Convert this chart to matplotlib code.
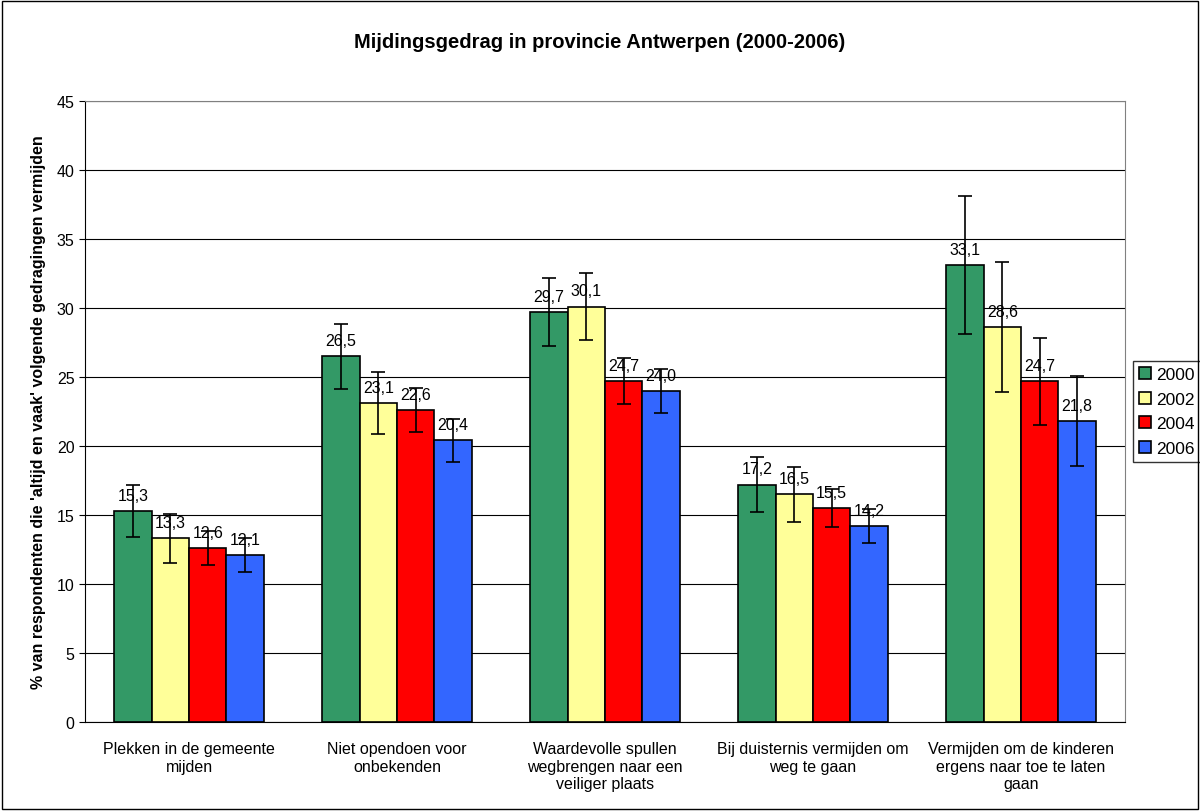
import numpy as np
import matplotlib
matplotlib.use("Agg")
import matplotlib.pyplot as plt
from matplotlib.patches import Rectangle

plt.rcParams["font.family"] = ["Liberation Sans", "DejaVu Sans"]

categories = [
    "Plekken in de gemeente\nmijden",
    "Niet opendoen voor\nonbekenden",
    "Waardevolle spullen\nwegbrengen naar een\nveiliger plaats",
    "Bij duisternis vermijden om\nweg te gaan",
    "Vermijden om de kinderen\nergens naar toe te laten\ngaan",
]
years = ["2000", "2002", "2004", "2006"]
v2000 = [15.3, 26.5, 29.7, 17.2, 33.1]
v2002 = [13.3, 23.1, 30.1, 16.5, 28.6]
v2004 = [12.6, 22.6, 24.7, 15.5, 24.7]
v2006 = [12.1, 20.4, 24.0, 14.2, 21.8]
e2000 = [1.9, 2.35, 2.45, 2.0, 5.0]
e2002 = [1.8, 2.25, 2.45, 2.0, 4.7]
e2004 = [1.25, 1.6, 1.65, 1.35, 3.15]
e2006 = [1.2, 1.55, 1.6, 1.25, 3.25]
colors = ["#339966", "#FFFF99", "#FF0000", "#3366FF"]

values = [v2000, v2002, v2004, v2006]
errors = [e2000, e2002, e2004, e2006]

fig = plt.figure(figsize=(12, 8.12), dpi=100)
ax = fig.add_axes([85 / 1200, 1 - 723 / 812, 1040 / 1200, 621 / 812])

x = np.arange(len(categories))
w = 0.18
for i, (vals, errs, c, yr) in enumerate(zip(values, errors, colors, years)):
    pos = x + (i - 1.5) * w
    ax.bar(pos, vals, w, color=c, edgecolor="black", linewidth=1.2, label=yr, zorder=2)
    ax.errorbar(pos, vals, yerr=errs, fmt="none", ecolor="black", elinewidth=1.2,
                capsize=5, capthick=1.2, zorder=3)
    for p, v in zip(pos, vals):
        ax.text(p, v + 0.6, f"{v:.1f}".replace(".", ","), ha="center", va="bottom",
                fontsize=11.5, zorder=4)

ax.set_xlim(-0.5, len(categories) - 0.5)
ax.set_ylim(0, 45)
ax.set_yticks(range(0, 46, 5))
ax.yaxis.grid(True, color="black", linewidth=0.8, zorder=0)
ax.set_axisbelow(True)
ax.set_xticks(x)
ax.set_xticklabels(categories, fontsize=11.5)
ax.tick_params(axis="y", labelsize=11.5, length=4)
ax.tick_params(axis="x", length=0, pad=14)
for s in ["top", "right"]:
    ax.spines[s].set_color("#808080")
ax.spines["left"].set_color("black")
ax.spines["bottom"].set_color("black")
ax.set_ylabel("% van respondenten die 'altijd en vaak' volgende gedragingen vermijden",
              fontsize=11.5, fontweight="bold", labelpad=8)

fig.text(0.5, 1 - 42 / 812, "Mijdingsgedrag in provincie Antwerpen (2000-2006)",
         ha="center", va="center", fontsize=14.5, fontweight="bold")

leg = ax.legend(loc="center left", bbox_to_anchor=((1133 - 85) / 1040, 0.5),
                frameon=True, fancybox=False, edgecolor="black", fontsize=12.5,
                handlelength=0.7, handleheight=0.7, handletextpad=0.3,
                borderpad=0.35, labelspacing=0.55, borderaxespad=0)
leg.get_frame().set_linewidth(1)

fig.add_artist(Rectangle((0.002, 0.002), 0.996, 0.996, transform=fig.transFigure,
                         fill=False, edgecolor="black", linewidth=1))

fig.savefig("out.png", dpi=100)
